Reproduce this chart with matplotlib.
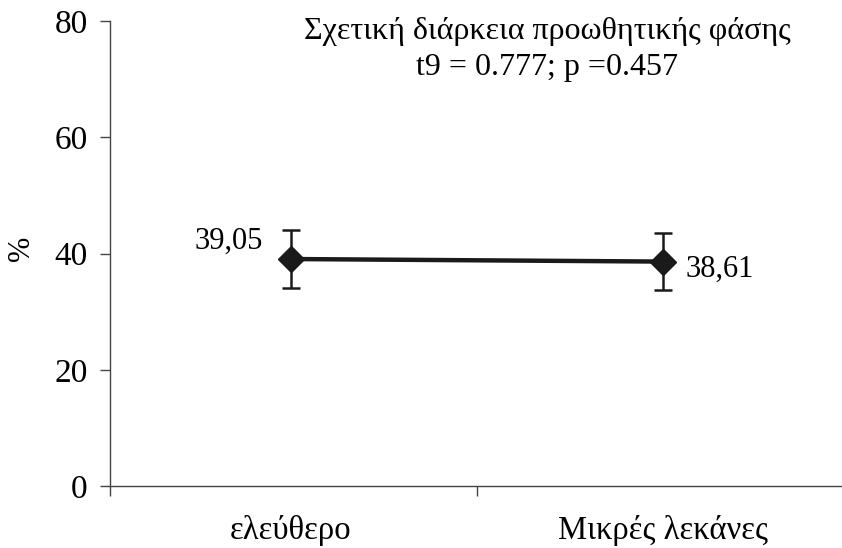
import matplotlib
matplotlib.use("Agg")
import matplotlib.pyplot as plt

# Data
categories = ["ελεύθερο", "Μικρές λεκάνες"]
means = [39.05, 38.61]
errors = [5.0, 4.9]
value_labels = ["39,05", "38,61"]
yticks = [0, 20, 40, 60, 80]
title_lines = ["Σχετική διάρκεια προωθητικής φάσης", "t9 = 0.777; p =0.457"]

plt.rcParams["font.family"] = ["Liberation Serif", "DejaVu Serif"]

W, H = 842, 548
fig = plt.figure(figsize=(W / 100, H / 100), dpi=100)
ax = fig.add_axes([110 / W, (H - 486) / H, 750 / W, 465 / H])

xs = list(range(len(categories)))
ink = "#1a1a1a"
ax.plot(xs, means, color=ink, lw=3.2, zorder=3)
ax.errorbar(xs, means, yerr=errors, fmt="D", color=ink, ms=13, mec=ink,
            mfc=ink, ecolor=ink, elinewidth=1.8, capsize=6.5, capthick=1.8,
            zorder=4)

ax.set_xlim(-0.485, 1.53)
ax.set_ylim(0, 80)

for s in ["top", "right"]:
    ax.spines[s].set_visible(False)
for s in ["left", "bottom"]:
    ax.spines[s].set_color("#444444")
    ax.spines[s].set_linewidth(1.0)

ax.set_yticks(yticks)
ax.set_yticklabels([str(v) for v in yticks], fontsize=24)
ax.tick_params(axis="y", direction="out", length=7, width=1.0,
               color="#444444", pad=9)
ax.set_xticks([-0.485, 0.5, 1.5])
ax.set_xticklabels([])
ax.tick_params(axis="x", direction="out", length=7, width=1.0,
               color="#444444")

for x, lab in zip(xs, categories):
    ax.text(x, -0.095, lab, transform=ax.get_xaxis_transform(),
            ha="center", va="center", fontsize=23.5)

ax.text(0 - 0.075, means[0] + 3.0, value_labels[0], ha="right",
        va="center", fontsize=22)
ax.text(1 + 0.06, means[1] - 1.3, value_labels[1], ha="left",
        va="center", fontsize=22)

fig.text(22 / W, 1 - 248 / H, "%", rotation=90, ha="center", va="center",
         fontsize=22)

fig.text(547 / W, 1 - 32 / H, title_lines[0], ha="center", va="center",
         fontsize=23)
fig.text(547 / W, 1 - 68 / H, title_lines[1], ha="center", va="center",
         fontsize=23)

fig.savefig("out.png", dpi=100, facecolor="white")
